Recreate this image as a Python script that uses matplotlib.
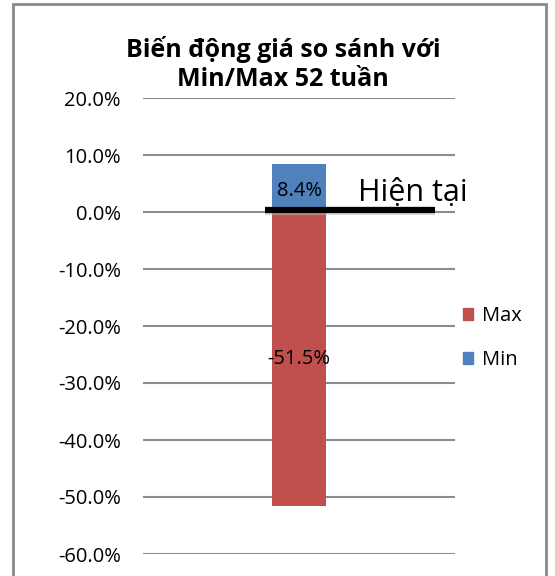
import matplotlib
matplotlib.use("Agg")
import matplotlib.pyplot as plt
from matplotlib.patches import Rectangle, Patch

plt.rcParams['font.family'] = ['Open Sans', 'DejaVu Sans']

title = "Biến động giá so sánh với\nMin/Max 52 tuần"
series_names = ["Max", "Min"]
series_values = [-51.5, 8.4]
series_colors = ["#C0504D", "#4F81BD"]
yticks = [-60, -50, -40, -30, -20, -10, 0, 10, 20]
current_label = "Hiện tại"
current_value = 0.0

fig = plt.figure(figsize=(5.55, 5.76), dpi=100)
ax = fig.add_axes([143/555, 1-554/576, (455-143)/555, (554-98)/576])

for name, val, col in zip(series_names, series_values, series_colors):
    ax.bar(0, val, width=0.17, color=col, label=name, zorder=3)
    ypos = val/2 - (0.6 if val > 0 else 0)
    ax.text(0, ypos, f"{val:.1f}%", ha='center', va='center', fontsize=14.5, zorder=5)

ax.set_xlim(-0.5, 0.5)
ax.set_ylim(-60, 20)
ax.set_yticks(yticks)
ax.set_yticklabels([f"{v:.1f}%" for v in yticks], fontsize=14.5)
ax.set_xticks([])
ax.tick_params(axis='y', length=0, pad=16)
for s in ax.spines.values():
    s.set_visible(False)
ax.grid(axis='y', color='#8c8c8c', linewidth=1.5, zorder=1)

# current level marker
ax.plot([-0.11, 0.436], [current_value + 0.1, current_value + 0.1], color='#bbbbbb', linewidth=6, alpha=0.5, zorder=3.5, solid_capstyle='butt')
ax.plot([-0.11, 0.436], [current_value + 0.4, current_value + 0.4], color='black', linewidth=4.5, zorder=4, solid_capstyle='butt')
ax.text(0.19, current_value + 3.4, current_label, fontsize=22, ha='left', va='center', zorder=5)

fig.text(283/555, 1-64/576, title, ha='center', va='center', fontsize=18, fontweight='bold', linespacing=1.25)

handles = [Patch(color=c, label=n) for n, c in zip(series_names, series_colors)]
fig.legend(handles=handles, loc='center left', bbox_to_anchor=(463/555, 1-338/576), frameon=False,
           fontsize=14.5, handlelength=0.5, handleheight=0.5, handletextpad=0.45, labelspacing=1.2, borderaxespad=0,
           borderpad=0)

fig.patches.append(Rectangle((13/555, -0.05), (546-13)/555, 1-4/576+0.05, transform=fig.transFigure,
                             fill=False, edgecolor='#898989', linewidth=2))

fig.savefig("out.png", dpi=100)
